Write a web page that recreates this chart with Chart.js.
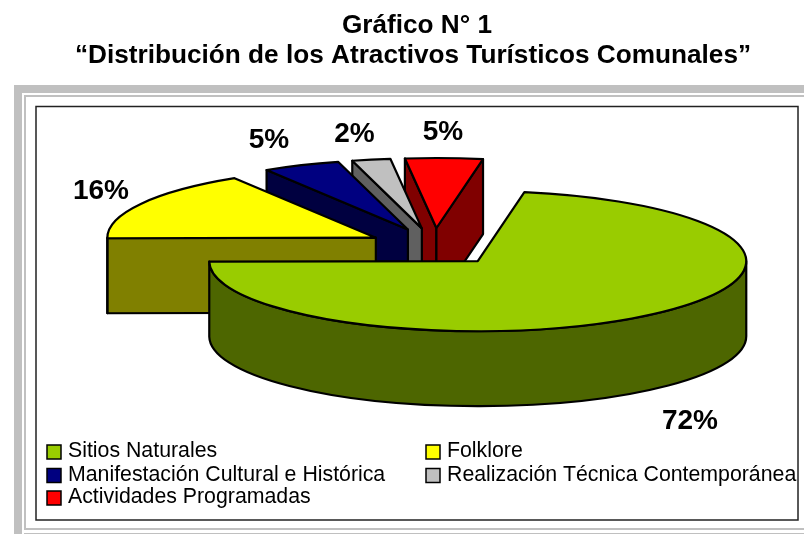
<!DOCTYPE html>
<html lang="es">
<head>
<meta charset="utf-8">
<title>Gráfico N° 1</title>
<style>html,body{margin:0;padding:0;background:#fff;overflow:hidden}canvas{display:block}</style>
<script src="https://cdn.jsdelivr.net/npm/chart.js@4"></script>
</head>
<body>
<canvas id="c" width="804" height="534"></canvas>
<script>
const titleLines = ['Gráfico N° 1', '“Distribución de los Atractivos Turísticos Comunales”'];
const categories = ['Sitios Naturales', 'Folklore', 'Manifestación Cultural e Histórica', 'Realización Técnica Contemporánea', 'Actividades Programadas'];
const percentages = [72.1, 16.3, 4.65, 2.3, 4.65];
const topColors = ['#99CC00', '#FFFF00', '#000080', '#C0C0C0', '#FF0000'];
const wallColors = ['#4D6600', '#808000', '#000040', '#606060', '#800000'];

const look = {
  cx: 434.5, cy: 246.8, rx: 268.5, ry: 70, depth: 75, explodeX: 67, explodeY: 18.8,
  labelAnchors: [[690, 429], [101, 199], [269, 148], [354.5, 141.5], [443, 140]],
  legendRows: [[47, 452], [426, 452], [47, 475.5], [426, 475.5], [47, 498]]
};

const pie3d = {
  id: 'pie3d',
  beforeDraw(chart) {
    const c = chart.ctx;
    c.save();
    c.fillStyle = '#fff'; c.fillRect(0, 0, 804, 534);
    c.fillStyle = '#C0C0C0';
    c.fillRect(14, 85, 790, 8); c.fillRect(14, 85, 8, 449);
    c.fillRect(24, 95, 780, 2); c.fillRect(24, 95, 2, 435);
    c.fillRect(24, 528, 780, 2); c.fillRect(24, 533, 780, 1);
    c.strokeStyle = '#222'; c.lineWidth = 1.5;
    c.strokeRect(36, 106.5, 762, 413.5);
    c.restore();
  },
  beforeDatasetsDraw(chart) {
    const c = chart.ctx, arcs = chart.getDatasetMeta(0).data;
    const {rx, ry, depth} = look;
    c.save();
    c.lineWidth = 2.2; c.lineJoin = 'round'; c.strokeStyle = '#000';
    for (let i = arcs.length - 1; i >= 0; i--) {
      const el = arcs[i], a0 = el.startAngle, a1 = el.endAngle, mid = (a0 + a1) / 2;
      const ax = look.cx + Math.cos(mid) * look.explodeX;
      const ay = look.cy + Math.sin(mid) * look.explodeY;
      const px = a => ax + rx * Math.cos(a), py = a => ay + ry * Math.sin(a);
      const edge = a => {
        c.beginPath(); c.moveTo(ax, ay); c.lineTo(px(a), py(a));
        c.lineTo(px(a), py(a) + depth); c.lineTo(ax, ay + depth); c.closePath();
        c.fillStyle = wallColors[i]; c.fill(); c.stroke();
      };
      if (Math.cos(a0) < 0) edge(a0);
      if (Math.cos(a1) > 0) edge(a1);
      const w0 = Math.max(a0, 0), w1 = Math.min(a1, Math.PI);
      if (w1 > w0) {
        c.beginPath(); c.ellipse(ax, ay, rx, ry, 0, w0, w1);
        c.lineTo(px(w1), py(w1) + depth);
        c.ellipse(ax, ay + depth, rx, ry, 0, w1, w0, true);
        c.closePath();
        c.fillStyle = wallColors[i]; c.fill(); c.stroke();
      }
      c.save();
      c.translate(ax, ay);
      c.scale(rx / el.outerRadius, ry / el.outerRadius);
      c.translate(-el.x, -el.y);
      el.draw(c);
      c.restore();
      c.beginPath(); c.moveTo(ax, ay); c.ellipse(ax, ay, rx, ry, 0, a0, a1); c.closePath(); c.stroke();
    }
    c.restore();
    return false;
  },
  afterDraw(chart) {
    const c = chart.ctx;
    c.save();
    c.fillStyle = '#000'; c.textBaseline = 'alphabetic';
    c.textAlign = 'center';
    c.font = 'bold 26.2px "Liberation Sans"';
    c.fillText(titleLines[0], 417, 33);
    c.fillText(titleLines[1], 413, 63);
    c.font = 'bold 28px "Liberation Sans"';
    percentages.forEach((v, i) => c.fillText(Math.round(v) + '%', look.labelAnchors[i][0], look.labelAnchors[i][1]));
    c.textAlign = 'left';
    c.font = '21.3px "Liberation Sans"';
    categories.forEach((name, i) => {
      const [x, y] = look.legendRows[i];
      c.fillStyle = topColors[i]; c.strokeStyle = '#000'; c.lineWidth = 1.5;
      c.fillRect(x, y - 7, 14, 14); c.strokeRect(x, y - 7, 14, 14);
      c.fillStyle = '#000';
      c.fillText(name, x + 21, y + 5);
    });
    c.restore();
  }
};

new Chart(document.getElementById('c'), {
  type: 'pie',
  data: { labels: categories, datasets: [{ data: percentages, backgroundColor: topColors, borderWidth: 0 }] },
  options: {
    responsive: false, animation: false, rotation: 10,
    layout: { padding: 0 },
    plugins: { legend: { display: false }, title: { display: false }, tooltip: { enabled: false } }
  },
  plugins: [pie3d]
});
</script>
</body>
</html>
